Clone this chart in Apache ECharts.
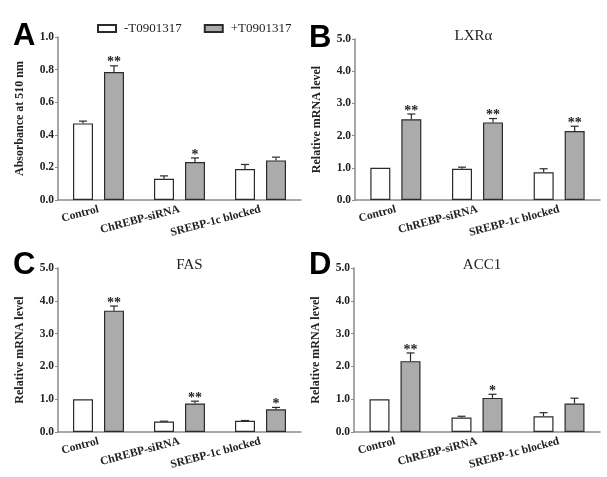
<!DOCTYPE html>
<html>
<head>
<meta charset="utf-8">
<script src="https://cdn.jsdelivr.net/npm/echarts@6/dist/echarts.min.js"></script>
<style>
html,body{margin:0;padding:0;background:#fff;}
#c{width:607px;height:477px;}
</style>
</head>
<body>
<div id="c"></div>
<script>
// ---------- data ----------
var categories = ['Control', 'ChREBP-siRNA', 'SREBP-1c blocked'];
var seriesNames = ['-T0901317', '+T0901317'];

var aMinus = [0.47, 0.13, 0.19];
var aMinusErr = [0.014, 0.018, 0.028];
var aPlus = [0.785, 0.233, 0.243];
var aPlusErr = [0.038, 0.025, 0.02];
var aSig = ['**', '*', ''];

var bMinus = [1.0, 0.97, 0.86];
var bMinusErr = [0, 0.05, 0.11];
var bPlus = [2.51, 2.41, 2.14];
var bPlusErr = [0.16, 0.12, 0.15];
var bSig = ['**', '**', '**'];

var cMinus = [1.0, 0.32, 0.34];
var cMinusErr = [0, 0.01, 0.01];
var cPlus = [3.70, 0.87, 0.69];
var cPlusErr = [0.14, 0.07, 0.06];
var cSig = ['**', '**', '*'];

var dMinus = [1.0, 0.44, 0.48];
var dMinusErr = [0, 0.04, 0.11];
var dPlus = [2.16, 1.04, 0.87];
var dPlusErr = [0.25, 0.11, 0.16];
var dSig = ['**', '*', ''];

var panelLetters = ['A', 'B', 'C', 'D'];
var panelTitles = ['', 'LXR\u03b1', 'FAS', 'ACC1'];
var yNames = ['Absorbance at 510 nm', 'Relative mRNA level', 'Relative mRNA level', 'Relative mRNA level'];
var yMax = [1.0, 5.0, 5.0, 5.0];
var yInterval = [0.2, 1.0, 1.0, 1.0];

// ---------- layout / style ----------
var grids = [
  {left: 58, top: 37, width: 243, height: 163},
  {left: 355, top: 39, width: 245, height: 161},
  {left: 58, top: 268, width: 243, height: 164},
  {left: 354, top: 268, width: 246, height: 164}
];
var serif = '"Liberation Serif", "Times New Roman", serif';
var barW = 20;
var barOff = 15.5;
var gray = '#ababab';
var edge = '#2b2b2b';

var panels = [
  [aMinus, aMinusErr, aPlus, aPlusErr, aSig],
  [bMinus, bMinusErr, bPlus, bPlusErr, bSig],
  [cMinus, cMinusErr, cPlus, cPlusErr, cSig],
  [dMinus, dMinusErr, dPlus, dPlusErr, dSig]
];

var option = {
  animation: false,
  backgroundColor: '#fff',
  grid: grids.map(function (g) { return Object.assign({containLabel: false}, g); }),
  title: [],
  legend: {
    data: seriesNames,
    left: 97, top: 22, padding: 0,
    itemWidth: 18, itemHeight: 7, itemGap: 22,
    textStyle: {fontFamily: serif, fontSize: 13, color: '#222', padding: [0, 0, 0, 3]},
    icon: 'rect'
  },
  xAxis: [], yAxis: [], series: []
};

grids.forEach(function (g, i) {
  var lp = (i % 2 === 0) ? {x: 8, y: 16} : {x: 304, y: 18};
  if (i >= 2) lp.y = 245;
  option.title.push({
    text: panelLetters[i], left: lp.x, top: lp.y,
    textStyle: {fontFamily: '"Liberation Sans", Arial, sans-serif', fontWeight: 'bold', fontSize: 31, color: '#000'}
  });
  if (panelTitles[i]) {
    option.title.push({
      text: panelTitles[i], left: g.left + g.width / 2 - (i === 1 ? 9 : 0) + (i === 2 ? 5 : 0), top: g.top - 15,
      textAlign: 'center',
      textStyle: {fontFamily: serif, fontWeight: 'normal', fontSize: 15, color: '#222'}
    });
  }
  option.xAxis.push({
    type: 'category', gridIndex: i, data: categories,
    axisLine: {lineStyle: {color: '#8a8a8a', width: 1.5}},
    axisTick: {show: false},
    axisLabel: {rotate: 15, fontFamily: serif, fontWeight: 'bold', fontSize: 11.5, color: '#222', margin: 9, interval: 0}
  });
  option.yAxis.push({
    type: 'value', gridIndex: i, min: 0, max: yMax[i], interval: yInterval[i],
    name: yNames[i], nameLocation: 'middle', nameGap: 32,
    nameTextStyle: {fontFamily: serif, fontWeight: 'bold', fontSize: 12, color: '#222'},
    axisLine: {show: true, lineStyle: {color: '#8a8a8a', width: 1.5}},
    axisTick: {show: true, length: 3, lineStyle: {color: '#8a8a8a'}},
    splitLine: {show: false},
    axisLabel: {fontFamily: serif, fontWeight: 'bold', fontSize: 11.5, color: '#222', margin: 4,
      formatter: function (v) { return v.toFixed(1); }}
  });

  var p = panels[i];
  [0, 1].forEach(function (k) {
    var vals = p[k * 2];
    var errs = p[k * 2 + 1];
    option.series.push({
      type: 'bar', name: seriesNames[k], xAxisIndex: i, yAxisIndex: i,
      data: vals, barWidth: barW, barGap: '55%',
      itemStyle: {color: k === 0 ? '#fff' : gray, borderColor: edge, borderWidth: 1.2}
    });
    var sig = p[4];
    option.series.push({
      type: 'custom', xAxisIndex: i, yAxisIndex: i, z: 5, silent: true,
      data: vals.map(function (v, j) { return [j, v, errs[j]]; }),
      encode: {x: 0, y: 1},
      renderItem: function (params, api) {
        var j = api.value(0), v = api.value(1), e = api.value(2);
        var base = api.coord([j, v]);
        var top = api.coord([j, v + e]);
        var x = base[0] + (k === 0 ? -barOff : barOff);
        var children = [];
        if (e > 0) {
          children.push({type: 'line', shape: {x1: x, y1: base[1], x2: x, y2: top[1]},
            style: {stroke: edge, lineWidth: 1.2}});
          children.push({type: 'line', shape: {x1: x - 4, y1: top[1], x2: x + 4, y2: top[1]},
            style: {stroke: edge, lineWidth: 1.2}});
        }
        if (k === 1 && sig[params.dataIndex]) {
          children.push({type: 'text', x: x, y: top[1] - 3,
            style: {text: sig[params.dataIndex], align: 'center', verticalAlign: 'middle',
              font: 'bold 14px ' + serif, fill: '#222'}});
        }
        return {type: 'group', children: children};
      }
    });
  });
});

var chart = echarts.init(document.getElementById('c'), null, {renderer: 'canvas'});
chart.setOption(option);
</script>
</body>
</html>
